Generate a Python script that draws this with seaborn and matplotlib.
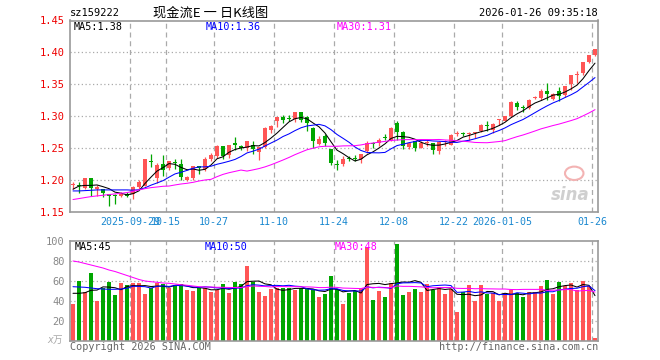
import numpy as np
import pandas as pd
import matplotlib
matplotlib.use("Agg")
import matplotlib.pyplot as plt
from matplotlib.patches import Ellipse
import seaborn as sns

# ---------------- data ----------------
opens = [1.192, 1.192, 1.1865, 1.202, 1.186, 1.1859, 1.177, 1.1755, 1.1745, 1.178,
         1.177, 1.188, 1.190, 1.229, 1.2026, 1.224, 1.218, 1.228, 1.225, 1.1995,
         1.203, 1.221, 1.216, 1.233, 1.237, 1.253, 1.238, 1.257, 1.253, 1.2505,
         1.255, 1.243, 1.2515, 1.2776, 1.2927, 1.299, 1.296, 1.2958, 1.3068, 1.299,
         1.281, 1.2568, 1.2693, 1.2474, 1.2245, 1.2245, 1.234, 1.234, 1.232, 1.2448,
         1.258, 1.2578, 1.266, 1.263, 1.289, 1.2755, 1.2516, 1.2604, 1.2495, 1.2578,
         1.2578, 1.2448, 1.2585, 1.2552, 1.2724, 1.273, 1.2718, 1.273, 1.276, 1.2844,
         1.2776, 1.2932, 1.2927, 1.3005, 1.3203, 1.3128, 1.3125, 1.328, 1.328, 1.340,
         1.327, 1.3385, 1.3333, 1.3505, 1.364, 1.367, 1.3854, 1.3958]
highs = [1.196, 1.196, 1.202, 1.202, 1.192, 1.186, 1.178, 1.177, 1.180, 1.180,
         1.190, 1.199, 1.232, 1.241, 1.2255, 1.238, 1.230, 1.232, 1.233, 1.205,
         1.222, 1.222, 1.235, 1.242, 1.254, 1.253, 1.255, 1.267, 1.254, 1.260,
         1.260, 1.252, 1.283, 1.286, 1.299, 1.301, 1.302, 1.307, 1.307, 1.300,
         1.282, 1.268, 1.271, 1.2474, 1.231, 1.237, 1.237, 1.239, 1.240, 1.260,
         1.259, 1.265, 1.272, 1.283, 1.2917, 1.276, 1.2578, 1.261, 1.260, 1.262,
         1.258, 1.260, 1.263, 1.272, 1.276, 1.275, 1.2745, 1.2755, 1.288, 1.2917,
         1.289, 1.2958, 1.300, 1.323, 1.323, 1.3177, 1.327, 1.331, 1.3427, 1.3526,
         1.336, 1.3463, 1.347, 1.3646, 1.371, 1.3854, 1.396, 1.405]
lows = [1.186, 1.179, 1.186, 1.175, 1.175, 1.172, 1.159, 1.1625, 1.173, 1.172,
        1.170, 1.186, 1.190, 1.220, 1.195, 1.206, 1.215, 1.216, 1.200, 1.198,
        1.200, 1.209, 1.213, 1.229, 1.234, 1.232, 1.234, 1.247, 1.246, 1.245,
        1.240, 1.2305, 1.250, 1.274, 1.283, 1.289, 1.292, 1.290, 1.290, 1.276,
        1.250, 1.255, 1.2526, 1.2224, 1.2146, 1.221, 1.230, 1.229, 1.2255, 1.2422,
        1.250, 1.2526, 1.263, 1.2615, 1.263, 1.2484, 1.2485, 1.245, 1.249, 1.2526,
        1.2396, 1.2396, 1.253, 1.254, 1.2687, 1.268, 1.263, 1.2656, 1.2745, 1.277,
        1.2734, 1.2865, 1.2917, 1.2984, 1.309, 1.306, 1.3115, 1.326, 1.3255, 1.3255,
        1.3255, 1.323, 1.3297, 1.341, 1.3526, 1.3646, 1.383, 1.395]
closes = [1.192, 1.190, 1.202, 1.1865, 1.188, 1.1786, 1.1745, 1.1745, 1.178, 1.175,
          1.188, 1.197, 1.232, 1.228, 1.2224, 1.215, 1.229, 1.226, 1.204, 1.204,
          1.221, 1.219, 1.233, 1.238, 1.253, 1.237, 1.254, 1.255, 1.250, 1.260,
          1.2485, 1.2515, 1.2818, 1.285, 1.299, 1.293, 1.295, 1.3068, 1.2943, 1.289,
          1.2604, 1.2646, 1.258, 1.2255, 1.2234, 1.2328, 1.233, 1.232, 1.2396, 1.2578,
          1.256, 1.263, 1.265, 1.2818, 1.2745, 1.2536, 1.2578, 1.250, 1.2578, 1.258,
          1.2464, 1.2589, 1.259, 1.2708, 1.2726, 1.2724, 1.2724, 1.274, 1.2854, 1.2838,
          1.288, 1.2934, 1.300, 1.3214, 1.314, 1.3125, 1.3255, 1.3286, 1.340, 1.335,
          1.335, 1.3318, 1.3464, 1.3646, 1.3646, 1.3854, 1.3958, 1.4047]
volumes = [37.3, 60, 49.3, 68, 40, 53.3, 59, 46, 58, 56,
           58, 58, 47, 53.3, 58.3, 57.3, 53.3, 56, 56.7, 51,
           50, 53.3, 52.7, 49, 51.3, 57.3, 48.3, 59.3, 56.7, 75.3,
           59.3, 49.3, 45, 52.3, 53.3, 53.3, 53.3, 50.7, 52.7, 52.7,
           50.7, 44, 47.3, 65.3, 51.7, 37.3, 48.3, 50, 52.7, 94,
           41.3, 50, 44, 57.7, 97.3, 46, 49, 52, 49, 56.7,
           50.7, 54, 47.3, 52.3, 29.3, 49, 56, 40, 56, 46.7,
           48, 40, 48, 50.7, 48.3, 44, 49, 49, 55, 61,
           47.3, 59, 54.7, 58, 50.7, 60, 55, 3]

# moving-average values before enough history is visible
ma5_head = [1.185, 1.190, 1.191, 1.191]
ma10_head = [1.1823, 1.1823, 1.1828, 1.1833, 1.1839, 1.1839, 1.1839, 1.1839, 1.1839]
ma30_head = [1.1688, 1.1703, 1.1719, 1.1734, 1.1745, 1.1755, 1.1766, 1.1776, 1.1786, 1.1797,
             1.1818, 1.1839, 1.1859, 1.1875, 1.1885, 1.1896, 1.1900, 1.1917, 1.1932, 1.1943,
             1.1958, 1.1979, 1.1995, 1.2005, 1.2047, 1.2083, 1.2109, 1.2130, 1.2151]
vma5_head = [47.7, 47.7, 48.3, 50.7]
vma10_head = [54.3, 54.0, 53.7, 53.0, 52.3, 52.0, 51.7, 51.7, 52.0]
vma30_head = [80, 79, 77.5, 76, 74.5, 73, 71, 69.5, 67.5, 65.5,
              63.5, 61.5, 60, 59.3, 58.7, 58, 57.7, 57, 56.3, 55.7,
              55, 54.3, 54, 54, 53.7, 53.7, 53.5, 53.5, 53.5]

tick_idx = [10, 16, 24, 34, 44, 54, 64, 72, 87]
tick_labels = ["2025-09-29", "10-15", "10-27", "11-10", "11-24", "12-08",
               "12-22", "2026-01-05", "01-26"]
price_ticks = [1.15, 1.20, 1.25, 1.30, 1.35, 1.40, 1.45]
vol_ticks = [20, 40, 60, 80, 100]

# ---------------- derived ----------------
n = len(closes)
idx = np.arange(n)
df = pd.DataFrame({"i": idx, "open": opens, "high": highs, "low": lows,
                   "close": closes, "vol": volumes})


def ma(series, w, head):
    m = series.rolling(w).mean().to_numpy()
    m[:len(head)] = head
    return m


df["ma5"] = ma(df["close"], 5, ma5_head)
df["ma10"] = ma(df["close"], 10, ma10_head)
df["ma30"] = ma(df["close"], 30, ma30_head)
df["vma5"] = ma(df["vol"], 5, vma5_head)
df["vma10"] = ma(df["vol"], 10, vma10_head)
df["vma30"] = ma(df["vol"], 30, vma30_head)

RED = "#ff5555"
GREEN = "#00a600"
GRID = "#aaaaaa"
SPINE = "#999999"
LW = 0.75
up = df["close"] >= df["open"]
cols = np.where(up, RED, GREEN)

sns.set_style("white")
plt.rcParams["font.family"] = ["DejaVu Sans Mono", "Noto Sans CJK SC"]

W, H = 660, 360
fig = plt.figure(figsize=(6.6, 3.6), dpi=100)
ax1 = fig.add_axes([70 / W, 1 - 211.5 / H, 528 / W, 191 / H])
ax2 = fig.add_axes([70 / W, 1 - 341 / H, 528 / W, 100 / H])

for ax in (ax1, ax2):
    ax.set_xlim(-0.5, n - 0.5)
    for s in ax.spines.values():
        s.set_color(SPINE)
        s.set_linewidth(1.2)
    for t in tick_idx:
        ax.axvline(t - 0.5, color=GRID, ls=(0, (4, 3)), lw=0.9, zorder=0)

# ---- price panel ----
ax1.set_ylim(1.15, 1.45)
for y in price_ticks[1:-1]:
    ax1.axhline(y, color=GRID, ls=(0, (1, 2)), lw=0.9, zorder=0)
ax1.vlines(df["i"], df["low"], df["high"], colors=cols, lw=0.9, zorder=2)
body_lo = np.minimum(df["open"], df["close"])
body_h = np.maximum(np.abs(df["close"] - df["open"]), 0.0016)
ax1.bar(df["i"], body_h, bottom=body_lo, width=0.75, color=cols, linewidth=0, zorder=3)

sns.lineplot(data=df, x="i", y="ma5", ax=ax1, color="black", lw=LW, zorder=4)
sns.lineplot(data=df, x="i", y="ma10", ax=ax1, color="#0000ff", lw=LW, zorder=4)
sns.lineplot(data=df, x="i", y="ma30", ax=ax1, color="#ff00ff", lw=LW, zorder=4)

ax1.set_yticks(price_ticks)
ax1.set_yticklabels([f"{v:.2f}" for v in price_ticks], color="#ee0000", fontsize=7.5)
ax1.set_xticks([t - 0.5 for t in tick_idx])
ax1.set_xticklabels(tick_labels, color="#1a88d0", fontsize=7.2)
ax1.tick_params(axis="both", length=0)
ax1.tick_params(axis="y", pad=4)
ax1.tick_params(axis="x", pad=4)
ax1.set_xlabel("")
ax1.set_ylabel("")

# sina watermark
ax1.text(0.985, 0.04, "sina", transform=ax1.transAxes, ha="right", va="bottom",
         fontsize=12, fontweight="bold", fontstyle="italic", color="#cfcfcf",
         family="DejaVu Sans", zorder=1)
ax1.add_patch(Ellipse((0.955, 0.2), 0.035, 0.07, transform=ax1.transAxes,
                      facecolor="none", edgecolor="#f3b3b3", lw=1.5, zorder=1))

# ---- volume panel ----
ax2.set_ylim(0, 100)
for y in vol_ticks[:-1]:
    ax2.axhline(y, color=GRID, ls=(0, (1, 2)), lw=0.9, zorder=0)
ax2.bar(df["i"], df["vol"], width=0.83, color=cols, linewidth=0, zorder=2)
sns.lineplot(data=df, x="i", y="vma5", ax=ax2, color="black", lw=LW, zorder=4)
sns.lineplot(data=df, x="i", y="vma10", ax=ax2, color="#0000ff", lw=LW, zorder=4)
sns.lineplot(data=df, x="i", y="vma30", ax=ax2, color="#ff00ff", lw=LW, zorder=4)
ax2.set_yticks(vol_ticks)
ax2.set_yticklabels([str(v) for v in vol_ticks], color="#888888", fontsize=7.5)
ax2.set_xticks([])
ax2.tick_params(axis="both", length=0, pad=4)
ax2.set_xlabel("")
ax2.set_ylabel("")


def ftext(x, y, s, **kw):
    fig.text(x / W, 1 - y / H, s, **kw)


# header
ftext(70, 13, "sz159222", ha="left", va="center", fontsize=7.5, color="black")
ftext(211, 13, "现金流E 一 日K线图", ha="center", va="center", fontsize=9.5,
      color="black", family=["Noto Sans CJK SC", "DejaVu Sans"])
ftext(598, 13, "2026-01-26 09:35:18", ha="right", va="center", fontsize=7.5, color="black")

# MA legends
ma5v, ma10v, ma30v = df["ma5"].iloc[-1], df["ma10"].iloc[-1], df["ma30"].iloc[-1]
ftext(74, 26.5, f"MA5:{ma5v:.2f}", ha="left", va="center", fontsize=7.3, color="black")
ftext(206, 26.5, f"MA10:{ma10v:.2f}", ha="left", va="center", fontsize=7.3, color="#0000ff")
ftext(337, 26.5, f"MA30:{ma30v:.2f}", ha="left", va="center", fontsize=7.3, color="#ff00ff")

v5, v10, v30 = df["vma5"].iloc[-1], df["vma10"].iloc[-1], df["vma30"].iloc[-1]
ftext(75, 247, f"MA5:{int(v5)}", ha="left", va="center", fontsize=7.3, color="black")
ftext(205, 247, f"MA10:{int(v10)}", ha="left", va="center", fontsize=7.3, color="#0000ff")
ftext(335, 247, f"MA30:{int(v30)}", ha="left", va="center", fontsize=7.3, color="#ff00ff")

ftext(63, 340, "x万", ha="right", va="center", fontsize=7, color="#aaaaaa",
      fontstyle="italic", family=["DejaVu Sans Mono", "Noto Sans CJK SC"])

# footer
ftext(70, 347, "Copyright 2026 SINA.COM", ha="left", va="center", fontsize=7.3, color="#666666")
ftext(598, 347, "http://finance.sina.com.cn", ha="right", va="center", fontsize=7.3, color="#666666")

fig.savefig("out.png", dpi=100)
